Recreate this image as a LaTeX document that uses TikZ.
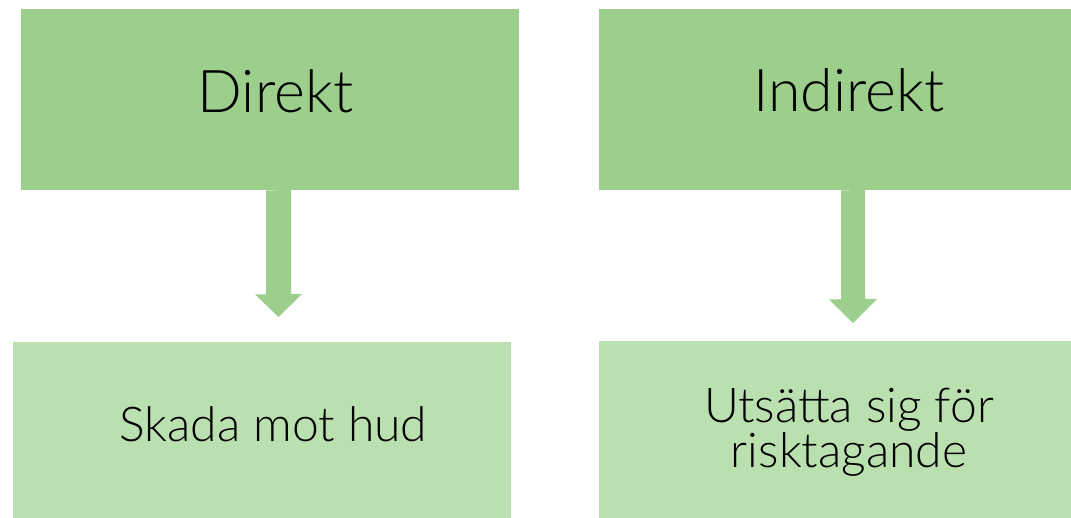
\documentclass[tikz,border=0pt]{standalone}
\usepackage{fontspec}
\setmainfont{Lato}[UprightFont=* Light]
\begin{document}
\begin{tikzpicture}[x=1pt,y=-1pt,
  headbox/.style={fill=headgreen,draw=none,inner sep=0pt,anchor=north west},
  leafbox/.style={fill=leafgreen,draw=none,inner sep=0pt,anchor=north west},
  bigtext/.style={font=\fontsize{59}{62}\selectfont,anchor=base,inner sep=0pt},
  smalltext/.style={font=\fontsize{48}{43}\selectfont,anchor=base,inner sep=0pt,align=center},
  arrowfill/.style={fill=headgreen,draw=none}]
\definecolor{headgreen}{RGB}{155,207,139}
\definecolor{leafgreen}{RGB}{187,224,176}
\useasboundingbox (0,0) rectangle (1071,518);

% boxes
\node[headbox,minimum width=498pt,minimum height=181pt] (A) at (21,9) {};
\node[headbox,minimum width=500pt,minimum height=181pt] (B) at (599,9) {};
\node[leafbox,minimum width=498pt,minimum height=180pt] (C) at (13,342) {};
\node[leafbox,minimum width=500pt,minimum height=181pt] (D) at (599,341) {};

% labels
\node[bigtext] (At) at (275.5,113) {Direkt};
\node[bigtext] (Bt) at (849,112) {Indirekt};
\node[smalltext] (Ct) at (273.5,442) {Skada mot hud};
\node[smalltext] (Dt) at (849,467) {Utsätta sig för\\risktagande};

% block arrows
\coordinate (a1) at (A.south -| 278.5,0);
\coordinate (a2) at (B.south -| 853,0);
\fill[arrowfill] (a1) ++(-12.5,0) -- ++(0,104) -- ++(-11,0) -- (278.5,317)
  -- (302,294) -- ++(-11,0) -- (291,190) -- cycle;
\fill[arrowfill] (a2) ++(-12,0) -- ++(0,109) -- ++(-12,0) -- (853,323)
  -- (877,299) -- ++(-12,0) -- (865,190) -- cycle;
\end{tikzpicture}
\end{document}
